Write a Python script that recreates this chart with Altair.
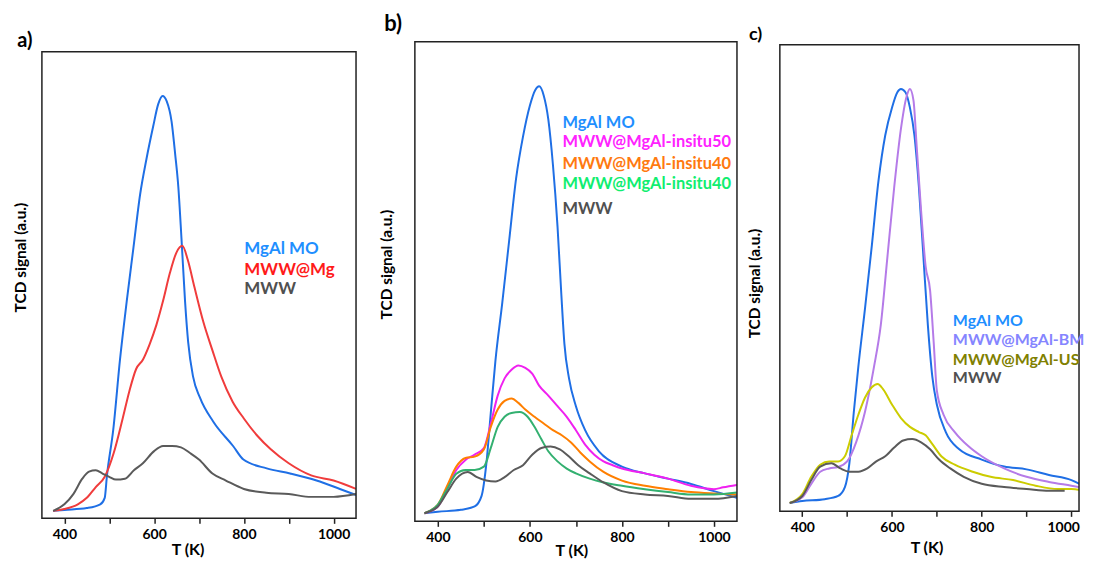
import altair as alt
import pandas as pd

FONT = "Lato"

# ---------------- panel a ----------------
A_T_MGAL = [375, 400, 450, 480, 490, 495, 509, 524, 539, 554, 569, 583, 598, 609, 619, 628, 639, 647, 654, 661, 669, 676, 687, 702, 732, 776, 799, 851, 903, 962, 1014, 1050]
A_MGAL = [1.6, 1.8, 2.2, 3.0, 4.4, 9.2, 19, 34, 46.5, 58, 69.5, 77, 84, 88.7, 90.5, 89.4, 85, 78, 71, 60, 46.5, 37.7, 30.3, 25.9, 20.7, 15.5, 12.6, 10.7, 9.6, 8.1, 6.3, 5.0]
A_T_MG = [375, 400, 430, 450, 470, 490, 510, 530, 545, 560, 575, 590, 605, 620, 635, 650, 663, 675, 690, 710, 730, 750, 775, 800, 830, 860, 900, 950, 1000, 1050]
A_MG = [1.6, 2.0, 3.0, 4.4, 6.7, 8.9, 14, 21.4, 27.3, 32, 34, 37.3, 41.4, 46.6, 52.5, 57, 58.4, 55.4, 49.5, 42, 36, 30.3, 25, 21.4, 17.7, 14.8, 11.8, 9.2, 8.1, 6.3]
A_T_MWW = [375, 400, 420, 440, 455, 470, 485, 500, 515, 535, 555, 575, 600, 620, 640, 660, 680, 700, 730, 760, 800, 850, 900, 950, 1000, 1050]
A_MWW = [1.6, 3.0, 5.2, 8.5, 10, 10.3, 9.6, 8.9, 8.3, 8.5, 10.3, 11.8, 14.4, 15.5, 15.5, 15.2, 14, 12.6, 9.6, 8.1, 6.3, 5.5, 5.2, 4.6, 4.6, 5.2]

# ---------------- panel b ----------------
B_T_MGAL = [371, 400, 450, 480, 495, 505, 515, 525, 540, 555, 570, 585, 600, 612, 620, 630, 640, 650, 660, 668, 675, 685, 700, 720, 750, 800, 850, 900, 950, 1000, 1050]
B_MGAL = [1.7, 2.0, 2.4, 3.1, 5.3, 11.7, 22.6, 33.4, 45.6, 58.6, 71.5, 80.2, 86.7, 90, 90.7, 88.8, 83.8, 74.4, 61.5, 47.8, 37, 29.8, 24, 19, 14.6, 11.4, 10, 8.9, 7.8, 6.3, 4.9]
B_T_IN50 = [371, 400, 420, 440, 460, 480, 500, 515, 530, 545, 560, 575, 590, 605, 620, 640, 660, 680, 700, 720, 740, 760, 780, 800, 850, 900, 950, 1000, 1020, 1050]
B_IN50 = [1.7, 3.1, 6.7, 10.7, 12.8, 13.9, 15.3, 20.4, 26.2, 29.8, 31.6, 32.5, 32, 30.8, 28.3, 26.2, 24, 21.8, 19, 16, 13.9, 12.5, 11.7, 11, 10, 8.9, 7.4, 6.7, 7.1, 7.6]
B_T_IN40A = [371, 400, 420, 440, 460, 480, 500, 515, 530, 545, 560, 575, 590, 610, 630, 650, 670, 690, 710, 730, 760, 800, 850, 900, 950, 1000, 1050]
B_IN40A = [1.7, 3.5, 7.4, 11.4, 13.2, 13.5, 15, 19.7, 23.3, 25.1, 25.6, 24.7, 23.3, 21.8, 20.4, 19, 17.9, 16.4, 14.3, 12.5, 10.3, 8.5, 7.4, 6.7, 6.1, 5.8, 5.6]
B_T_IN40B = [371, 400, 420, 440, 460, 480, 500, 515, 530, 545, 560, 578, 595, 610, 625, 640, 660, 680, 700, 730, 760, 800, 850, 900, 950, 1000, 1050]
B_IN40B = [1.7, 3.5, 6.7, 9.9, 10.7, 10.7, 11.4, 15.3, 19.7, 21.8, 22.6, 22.8, 21.8, 19.7, 17.1, 14.6, 12.5, 11, 10, 8.9, 8.1, 7.4, 6.7, 6.1, 5.6, 5.6, 6.0]
B_T_MWW = [371, 400, 420, 440, 465, 485, 505, 525, 545, 565, 585, 605, 625, 645, 665, 685, 705, 730, 760, 800, 850, 900, 950, 1000, 1050]
B_MWW = [1.7, 3.1, 6.0, 8.9, 10.3, 9.2, 8.5, 8.3, 9.2, 10.7, 11.7, 13.9, 15.3, 15.6, 15, 13.5, 11.7, 10, 8.1, 6.3, 5.6, 5.3, 4.7, 4.7, 5.3]

# ---------------- panel c ----------------
C_T_MGAL = [372, 400, 450, 480, 495, 505, 515, 525, 540, 555, 570, 585, 600, 612, 620, 630, 640, 650, 660, 670, 680, 690, 700, 720, 750, 800, 850, 900, 950, 1000, 1030]
C_MGAL = [1.8, 2.2, 2.6, 3.3, 5.2, 10.3, 21.4, 31, 43.6, 56.9, 70.9, 80.6, 86.5, 89.8, 90.5, 89.8, 86.5, 80.6, 69.5, 54.7, 39.9, 28.8, 22.9, 17, 13.3, 11.1, 9.6, 9.0, 7.8, 6.7, 5.3]
C_T_BM = [372, 400, 420, 440, 460, 480, 500, 520, 540, 560, 575, 590, 605, 620, 632, 640, 648, 655, 665, 675, 685, 693, 700, 715, 740, 770, 800, 850, 900, 950, 1000, 1030]
C_BM = [1.8, 3.0, 5.9, 8.5, 9.2, 9.5, 10.7, 14.8, 21.4, 31, 39.9, 54.7, 69.5, 82, 88.7, 90.5, 88, 78.3, 64.3, 52.5, 47.3, 36.2, 25.9, 20.7, 17, 14, 11.8, 9.2, 7.4, 6.3, 5.5, 5.0]
C_T_US = [372, 400, 420, 440, 460, 480, 495, 510, 525, 540, 555, 568, 580, 600, 620, 640, 660, 675, 690, 710, 740, 780, 820, 870, 920, 970, 1000, 1030]
C_US = [1.8, 3.7, 7.4, 10, 10.7, 10.7, 11.8, 16.3, 20.7, 24.4, 26.6, 27.3, 26.2, 22.9, 20, 18.1, 17, 16.3, 14.4, 11.8, 10, 8.5, 7.4, 6.7, 5.5, 4.8, 4.8, 4.4]
C_T_MWW = [372, 400, 420, 440, 465, 485, 505, 525, 545, 565, 585, 605, 625, 645, 665, 685, 705, 730, 760, 800, 850, 900, 950, 985]
C_MWW = [1.8, 3.3, 6.7, 9.6, 10.3, 9.2, 8.5, 8.5, 9.2, 10.7, 11.8, 13.7, 15.2, 15.5, 14.8, 13.3, 11.1, 9.2, 7.4, 5.9, 5.2, 4.8, 4.4, 4.4]

# series keys, labels, colours
A_KEYS = ["MgAl MO", "MWW@Mg", "MWW"]
A_LINE_COLORS = ["#1f6fe5", "#f03c3c", "#5a5a5a"]
A_TEXT_COLORS = ["#1f8fff", "#ff1a1a", "#505050"]

B_KEYS = ["MgAl MO", "MWW@MgAl-insitu50", "MWW@MgAl-insitu40 (a)", "MWW@MgAl-insitu40 (b)", "MWW"]
B_LABELS = ["MgAl MO", "MWW@MgAl-insitu50", "MWW@MgAl-insitu40", "MWW@MgAl-insitu40", "MWW"]
B_LINE_COLORS = ["#1f6fe5", "#f020f0", "#ff7f00", "#33b070", "#5a5a5a"]
B_TEXT_COLORS = ["#1f8fff", "#ff22ff", "#ff7a10", "#10ee70", "#505050"]

C_KEYS = ["MgAl MO", "MWW@MgAl-BM", "MWW@MgAl-US", "MWW"]
C_LINE_COLORS = ["#1f6fe5", "#b57be8", "#cccc00", "#5a5a5a"]
C_TEXT_COLORS = ["#1f8fff", "#8585ff", "#808000", "#505050"]


def long_df(keys, colors, t_lists, v_lists):
    rows = []
    for k, c, ts, vs in zip(keys, colors, t_lists, v_lists):
        for t, v in zip(ts, vs):
            rows.append({"T": t, "signal": v, "series": k, "col": c})
    return pd.DataFrame(rows)


def panel(df, labels, text_colors, width, height, domain,
          title, ytitle_pad, ytitle_y, xtitle_x, xtitle_pad,
          leg_x, leg_y, leg_size, last_label_right=False):
    axis_kw = dict(values=[400, 500, 600, 700, 800, 900, 1000], format="d",
                   labelExpr="datum.value % 200 == 0 ? datum.label : ''",
                   title="T (K)", titleFont=FONT, titleFontSize=16,
                   titleFontWeight="bold", titleColor="black",
                   titleX=xtitle_x, titlePadding=xtitle_pad,
                   labelFont=FONT, labelFontSize=14, labelFontWeight="bold",
                   labelColor="black", labelPadding=4, labelFlush=False,
                   tickColor="#222", tickSize=5, tickWidth=1.5,
                   domain=False, grid=False)
    if last_label_right:
        axis_kw["labelAlign"] = {"condition": {"test": "datum.value == 1000", "value": "right"},
                                 "value": "center"}
        axis_kw["labelOffset"] = {"condition": {"test": "datum.value == 1000", "value": 8},
                                  "value": 0}
    lines = alt.Chart(df).mark_line(strokeWidth=2, interpolate="monotone", clip=True).encode(
        x=alt.X("T:Q",
                scale=alt.Scale(domain=domain, nice=False, zero=False),
                axis=alt.Axis(**axis_kw)),
        y=alt.Y("signal:Q",
                scale=alt.Scale(domain=[0, 100], nice=False, zero=False),
                axis=alt.Axis(title="TCD signal (a.u.)", labels=False, ticks=False,
                              domain=False, grid=False, titleFont=FONT, titleFontSize=15.5,
                              titleFontWeight="bold", titleColor="black",
                              titlePadding=ytitle_pad, titleY=ytitle_y)),
        color=alt.Color("col:N", scale=None),
        detail="series:N",
    )
    frame = alt.Chart(pd.DataFrame({"f": [0]})).mark_rect(
        filled=False, stroke="#222", strokeWidth=1.5
    ).encode(x=alt.value(0), x2=alt.value(width), y=alt.value(0), y2=alt.value(height))
    texts = []
    for lab, col, yy in zip(labels, text_colors, leg_y):
        texts.append(
            alt.Chart(pd.DataFrame({"label": [lab]})).mark_text(
                align="left", baseline="middle", font=FONT, fontWeight="bold",
                fontSize=leg_size, color=col
            ).encode(text="label:N", x=alt.value(leg_x), y=alt.value(yy))
        )
    return alt.layer(lines, frame, *texts).properties(width=width, height=height, title=title)


def spacer(h):
    return alt.Chart(pd.DataFrame({"s": [0]})).mark_rect(opacity=0).encode(
        x=alt.value(0), x2=alt.value(1), y=alt.value(0), y2=alt.value(1)
    ).properties(width=10, height=h)


df_a = long_df(A_KEYS, A_LINE_COLORS, [A_T_MGAL, A_T_MG, A_T_MWW], [A_MGAL, A_MG, A_MWW])
df_b = long_df(B_KEYS, B_LINE_COLORS, [B_T_MGAL, B_T_IN50, B_T_IN40A, B_T_IN40B, B_T_MWW],
               [B_MGAL, B_IN50, B_IN40A, B_IN40B, B_MWW])
df_c = long_df(C_KEYS, C_LINE_COLORS, [C_T_MGAL, C_T_BM, C_T_US, C_T_MWW],
               [C_MGAL, C_BM, C_US, C_MWW])

title_a = alt.TitleParams(text="a)", anchor="start", frame="bounds", font=FONT,
                          fontSize=20, fontWeight="bold", color="black", offset=0, dx=4)
title_b = alt.TitleParams(text="b)", anchor="start", frame="bounds", font=FONT,
                          fontSize=22, fontWeight="bold", color="black", offset=5, dx=5)
title_c = alt.TitleParams(text="c)", anchor="start", frame="bounds", font=FONT,
                          fontSize=18, fontWeight="bold", color="black", offset=0, dx=1)

pa = panel(df_a, A_KEYS, A_TEXT_COLORS, 315, 468, [350, 1050],
           title_a, 13.7, 206, 146, 0, 203, [198, 218.5, 238.5], 17)
pb = panel(df_b, B_LABELS, B_TEXT_COLORS, 323, 481, [350, 1050],
           title_b, 20.7, 223, 157, -2, 148, [81.5, 101, 122.5, 143, 168], 16.5)
pc = panel(df_c, C_KEYS, C_TEXT_COLORS, 300, 468, [350, 1017],
           title_c, 17, 239, 147, 5, 173.5, [277, 296.5, 316.5, 334.5], 16,
           last_label_right=True)

col_a = alt.vconcat(spacer(22), pa, spacing=0)
col_b = alt.vconcat(spacer(4), pb, spacing=0)
col_c = alt.vconcat(spacer(17), pc, spacing=0)

chart = alt.hconcat(
    alt.hconcat(col_a, col_b, spacing=22),
    col_c,
    spacing=10,
).properties(
    padding={"left": 5, "top": 0, "right": 0, "bottom": 0},
    background="white",
).configure_view(strokeWidth=0)

chart.save("out.html", embed_options={"renderer": "svg", "actions": False})
